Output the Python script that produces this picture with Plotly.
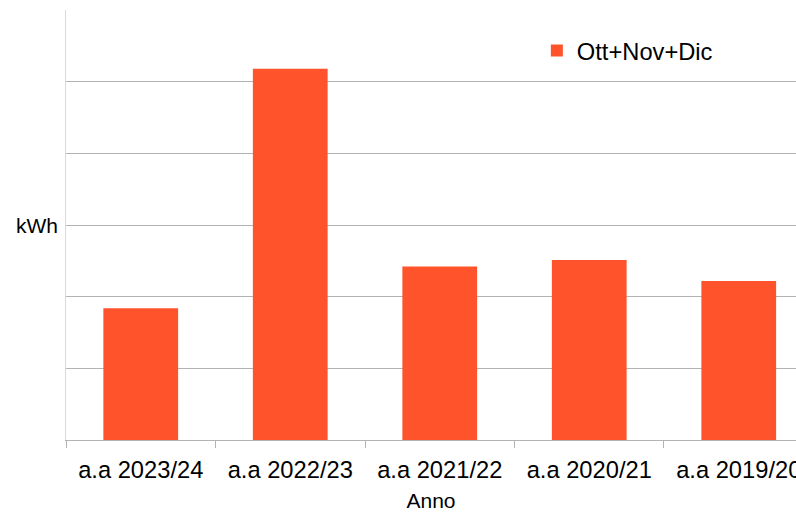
import plotly.graph_objects as go

## Data:
# ======================================
anni = ['a.a 2023/24', 'a.a 2022/23', 'a.a 2021/22', 'a.a 2020/21', 'a.a 2019/20']
kwh = [1840, 5180, 2420, 2510, 2220]
serie = 'Ott+Nov+Dic'

## Figure:
# ======================================
fig = go.Figure()
fig.add_trace(go.Bar(
    x=anni,
    y=kwh,
    name=serie,
    marker=dict(color='#ff542b', line=dict(width=0)),
    showlegend=True,
))

fig.update_layout(
    width=796, height=512,
    margin=dict(l=66, r=0, t=10, b=72),
    paper_bgcolor='white',
    plot_bgcolor='white',
    font=dict(family='Liberation Sans, Arial', size=23.7, color='black'),
    bargap=0.5,
    showlegend=True,
    legend=dict(x=0.645, y=0.957, xanchor='left', yanchor='top',
                bgcolor='rgba(0,0,0,0)', font=dict(size=23.7)),
)

fig.update_xaxes(
    range=[-0.5, 4.383],
    automargin=False,
    showline=True, linecolor='#b3b3b3', linewidth=1,
    ticks='outside', tickson='boundaries', ticklen=7, tickcolor='#b3b3b3',
    ticklabelstandoff=9,
    showgrid=False,
    title=dict(text='Anno', font=dict(size=21), standoff=14),
)
fig.update_yaxes(
    range=[0, 6000], dtick=1000,
    automargin=False,
    showticklabels=False,
    showgrid=True, gridcolor='#b3b3b3', gridwidth=1,
    showline=True, linecolor='#d9d9d9', linewidth=1,
    zeroline=False,
)

# titolo asse y orizzontale
fig.add_annotation(text='kWh', xref='paper', yref='paper', x=0, y=0.5,
                   xanchor='right', yanchor='middle', xshift=-6,
                   showarrow=False, font=dict(size=21))

# niente margine della pagina: la figura riempie la finestra
fig.write_html("out.html",
               config=dict(displayModeBar=False),
               post_script="document.body.style.margin='0';"
                           "document.body.style.overflow='hidden';")
